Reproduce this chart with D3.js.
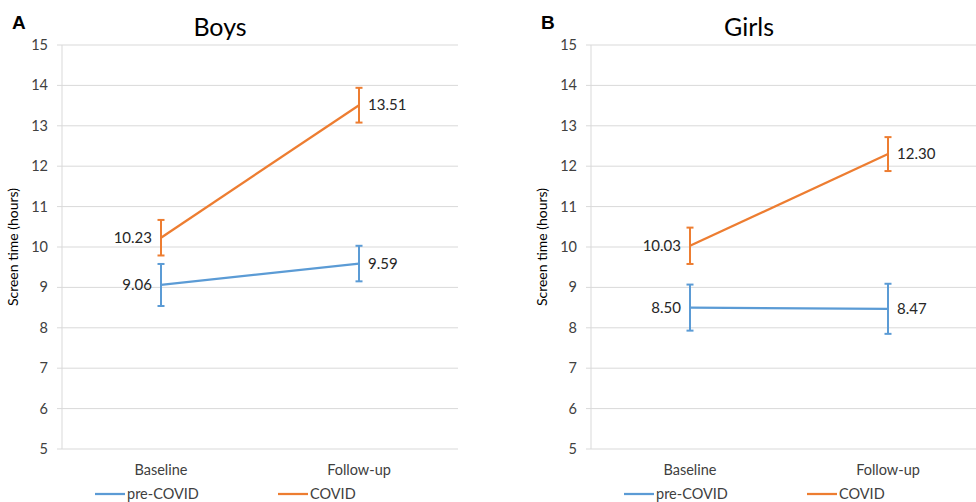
<!DOCTYPE html>
<html>
<head>
<meta charset="utf-8">
<script src="https://cdn.jsdelivr.net/npm/d3@7"></script>
<style>
  body { margin: 0; background: #fff; }
  svg { display: block; font-family: Lato, "Open Sans", sans-serif; }
</style>
</head>
<body>
<svg id="chart" width="976" height="502"></svg>
<script>
const timepoints = ['Baseline', 'Follow-up'];
const yTicks = [5, 6, 7, 8, 9, 10, 11, 12, 13, 14, 15];

// boys
const boysPre = [9.06, 9.59];
const boysPreErr = [0.52, 0.44];
const boysCovid = [10.23, 13.51];
const boysCovidErr = [0.44, 0.43];

// girls
const girlsPre = [8.50, 8.47];
const girlsPreErr = [0.57, 0.62];
const girlsCovid = [10.03, 12.30];
const girlsCovidErr = [0.45, 0.42];

const seriesNames = ['pre-COVID', 'COVID'];
const colors = ['#5b9bd5', '#ed7d31'];

const svg = d3.select('#chart');

const plotTop = 45, plotBottom = 449;
const yScale = d3.scaleLinear().domain([5, 15]).range([plotBottom, plotTop]);

function drawPanel(left, letter, title, pre, preErr, covid, covidErr) {
    const right = left + 396;
    const g = svg.append('g');

    const xScale = d3.scaleBand()
        .domain(timepoints)
        .range([left, right]);
    const cx = d => xScale(d) + xScale.bandwidth() / 2;

    // gridlines
    g.append('g')
        .selectAll('line')
        .data(yTicks)
        .join('line')
        .attr('x1', left - 5)
        .attr('x2', right)
        .attr('y1', d => yScale(d))
        .attr('y2', d => yScale(d))
        .attr('stroke', '#d9d9d9')
        .attr('stroke-width', 1);

    // vertical axis
    g.append('line')
        .attr('x1', left).attr('x2', left)
        .attr('y1', plotTop).attr('y2', plotBottom)
        .attr('stroke', '#d9d9d9');

    // y tick labels
    g.append('g')
        .selectAll('text')
        .data(yTicks)
        .join('text')
        .attr('x', left - 14)
        .attr('y', d => yScale(d))
        .attr('dy', '0.35em')
        .attr('text-anchor', 'end')
        .attr('font-size', 14.5)
        .attr('fill', '#404040')
        .text(d => d);

    // x labels
    g.append('g')
        .selectAll('text')
        .data(timepoints)
        .join('text')
        .attr('x', d => cx(d))
        .attr('y', 475)
        .attr('text-anchor', 'middle')
        .attr('font-size', 14.5)
        .attr('fill', '#404040')
        .text(d => d);

    // axis title
    g.append('text')
        .attr('transform', `translate(${left - 44},${(plotTop + plotBottom) / 2}) rotate(-90)`)
        .attr('text-anchor', 'middle')
        .attr('font-size', 14)
        .attr('fill', '#000')
        .text('Screen time (hours)');

    // panel title and letter
    g.append('text')
        .attr('x', cx(timepoints[0]) + 59)
        .attr('y', 36)
        .attr('text-anchor', 'middle')
        .attr('font-size', 25)
        .attr('fill', '#000')
        .text(title);

    g.append('text')
        .attr('x', left - 50)
        .attr('y', 29)
        .attr('font-size', 19)
        .attr('font-weight', 'bold')
        .attr('font-family', 'Liberation Sans, Arial, sans-serif')
        .text(letter);

    const series = [
        { name: seriesNames[0], values: pre, errs: preErr, color: colors[0] },
        { name: seriesNames[1], values: covid, errs: covidErr, color: colors[1] }
    ];

    const line = d3.line()
        .x((d, i) => cx(timepoints[i]))
        .y(d => yScale(d));

    series.forEach(s => {
        const sg = g.append('g');

        sg.append('path')
            .attr('d', line(s.values))
            .attr('fill', 'none')
            .attr('stroke', s.color)
            .attr('stroke-width', 2.25);

        const points = s.values.map((v, i) => ({ v, e: s.errs[i], t: timepoints[i], i }));

        // error bars
        sg.selectAll('.err')
            .data(points)
            .join('line')
            .attr('x1', d => cx(d.t)).attr('x2', d => cx(d.t))
            .attr('y1', d => yScale(d.v + d.e))
            .attr('y2', d => yScale(d.v - d.e))
            .attr('stroke', s.color)
            .attr('stroke-width', 2);

        sg.selectAll('.cap')
            .data(points.flatMap(d => [d.v + d.e, d.v - d.e].map(y => ({ t: d.t, y }))))
            .join('line')
            .attr('x1', d => cx(d.t) - 3.5).attr('x2', d => cx(d.t) + 3.5)
            .attr('y1', d => yScale(d.y)).attr('y2', d => yScale(d.y))
            .attr('stroke', s.color)
            .attr('stroke-width', 2);

        // value labels
        sg.selectAll('.lbl')
            .data(points)
            .join('text')
            .attr('x', d => d.i === 0 ? cx(d.t) - 9 : cx(d.t) + 9)
            .attr('y', d => yScale(d.v))
            .attr('dy', '0.35em')
            .attr('text-anchor', d => d.i === 0 ? 'end' : 'start')
            .attr('font-size', 15)
            .attr('fill', '#262626')
            .text(d => d.v.toFixed(2));
    });

    // legend
    const legendX = [left + 33, left + 216];
    series.forEach((s, i) => {
        g.append('line')
            .attr('x1', legendX[i]).attr('x2', legendX[i] + 30)
            .attr('y1', 494).attr('y2', 494)
            .attr('stroke', s.color)
            .attr('stroke-width', 2.25);
        g.append('text')
            .attr('x', legendX[i] + 32)
            .attr('y', 494)
            .attr('dy', '0.35em')
            .attr('font-size', 14.5)
            .attr('fill', '#404040')
            .text(s.name);
    });
}

drawPanel(62, 'A', 'Boys', boysPre, boysPreErr, boysCovid, boysCovidErr);
drawPanel(591, 'B', 'Girls', girlsPre, girlsPreErr, girlsCovid, girlsCovidErr);
</script>
</body>
</html>
